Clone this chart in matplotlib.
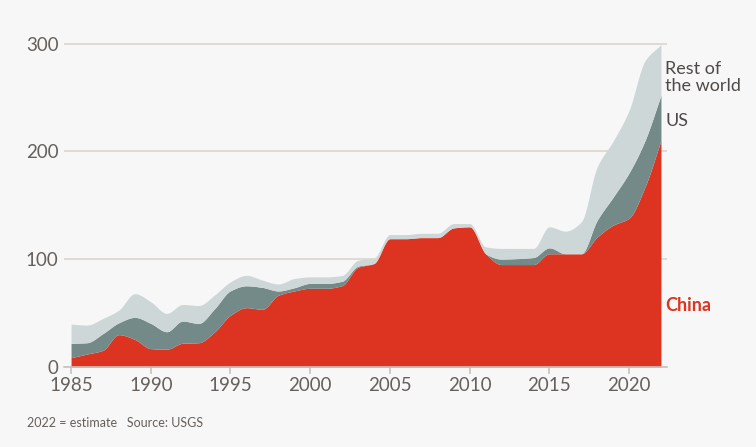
import numpy as np
import matplotlib
matplotlib.use("Agg")
import matplotlib.pyplot as plt

# rare earth production, thousand tonnes
years = list(range(1985, 2023))
china = [8.6, 12, 15.5, 30, 25.5, 17, 16.5, 22, 22.5, 32.5,
         48, 55, 53.5, 66.5, 70.5, 73, 73, 75.5, 92.5, 96,
         119, 119, 120, 120, 129, 130, 105, 95, 95, 95,
         105, 105, 105, 120.5, 131.5, 138, 167, 210]
us = [13.3, 10.5, 15.5, 11, 20.5, 23.4, 16.2, 20.6, 17.9, 21.5,
      22.7, 20.3, 20.3, 4, 3, 4.5, 4.5, 4, 1, 0,
      0, 0, 0, 0, 0, 0, 0, 5, 5.5, 6.5,
      5.5, 0, 0, 15.5, 26, 42, 43, 42]
rest = [17.9, 16.4, 14, 11.8, 22, 20.1, 17, 15.4, 16.6, 12.7,
        8.3, 9.7, 6.8, 6.5, 8.5, 6.1, 6.1, 5.4, 5.5, 5,
        3.8, 3.8, 4, 4, 4, 3, 6.4, 10, 9.5, 8.5,
        19.5, 21, 29.5, 49.5, 52, 58, 74, 47]

BG = "#f7f7f7"
TXT = "#66605c"
RED = "#dc3420"
DARK = "#748a88"
LIGHT = "#cdd7d8"
GRID = "#dcd5cf"


def pchip(x, y, xs):
    # monotone cubic (Fritsch-Carlson) so the stacked edges look smooth
    x = np.asarray(x, float)
    y = np.asarray(y, float)
    h = np.diff(x)
    d = np.diff(y) / h
    m = np.zeros_like(y)
    m[0], m[-1] = d[0], d[-1]
    for i in range(1, len(y) - 1):
        if d[i - 1] * d[i] > 0:
            w1 = 2 * h[i] + h[i - 1]
            w2 = h[i] + 2 * h[i - 1]
            m[i] = (w1 + w2) / (w1 / d[i - 1] + w2 / d[i])
    idx = np.clip(np.searchsorted(x, xs) - 1, 0, len(x) - 2)
    t = (xs - x[idx]) / h[idx]
    h00 = 2 * t**3 - 3 * t**2 + 1
    h10 = t**3 - 2 * t**2 + t
    h01 = -2 * t**3 + 3 * t**2
    h11 = t**3 - t**2
    return (h00 * y[idx] + h10 * h[idx] * m[idx]
            + h01 * y[idx + 1] + h11 * h[idx] * m[idx + 1])


plt.rcParams['font.family'] = ['Lato', 'DejaVu Sans']

fig = plt.figure(figsize=(7.56, 4.47), dpi=100, facecolor=BG)
ax = fig.add_axes([0.0847, 0.179, 0.7976, 0.7248], facecolor=BG)

c1 = np.array(china)
c2 = c1 + np.array(us)
c3 = c2 + np.array(rest)
xs = np.linspace(years[0], years[-1], 1200)
s1 = pchip(years, c1, xs)
s2 = np.maximum(pchip(years, c2, xs), s1)
s3 = np.maximum(pchip(years, c3, xs), s2)

ax.fill_between(xs, 0, s1, color=RED, lw=0, zorder=3)
ax.fill_between(xs, s1, s2, color=DARK, lw=0, zorder=3)
ax.fill_between(xs, s2, s3, color=LIGHT, lw=0, zorder=3)

ax.set_xlim(1984.56, 2022.38)
ax.set_ylim(0, 300.5)
ax.set_yticks([0, 100, 200, 300])
ax.set_xticks([1985, 1990, 1995, 2000, 2005, 2010, 2015, 2020])
ax.grid(axis='y', color=GRID, lw=1.2, zorder=1)
for s in ['top', 'right', 'left']:
    ax.spines[s].set_visible(False)
ax.spines['bottom'].set_color("#c9c2bc")
ax.spines['bottom'].set_linewidth(1.2)
ax.spines['bottom'].set_zorder(4)
ax.tick_params(axis='y', length=0, pad=4, labelsize=13.5, labelcolor=TXT)
ax.tick_params(axis='x', length=5, width=1.2, color="#c9c2bc", pad=2,
               labelsize=13.5, labelcolor=TXT)

ax.text(2022.28, 268.5, "Rest of\nthe world", color="#4e4a47", fontsize=13,
        va='center', ha='left', linespacing=1.05)
ax.text(2022.28, 228.5, "US", color="#4e4a47", fontsize=13,
        va='center', ha='left')
ax.text(2022.28, 57, "China", color=RED, fontsize=13, fontweight='bold',
        va='center', ha='left')

fig.text(27 / 756, 1 - 423 / 447, "2022 = estimate   Source: USGS",
         color=TXT, fontsize=9, va='center', ha='left')

fig.savefig("out.png", dpi=100, facecolor=BG)
